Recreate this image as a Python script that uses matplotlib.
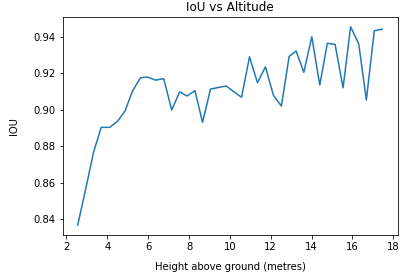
import matplotlib
matplotlib.use("Agg")
import matplotlib.pyplot as plt

# altitude (metres) and mean IoU
heights = [2.55, 2.94, 3.33, 3.70, 4.12, 4.51, 4.87, 5.23, 5.62, 5.97,
           6.36, 6.76, 7.15, 7.54, 7.90, 8.29, 8.66, 9.05, 9.44, 9.82,
           10.20, 10.57, 10.96, 11.35, 11.74, 12.13, 12.52, 12.90, 13.24, 13.62,
           14.01, 14.40, 14.77, 15.15, 15.54, 15.91, 16.31, 16.68, 17.07, 17.46]
iou = [0.8367, 0.8565, 0.8769, 0.8903, 0.8903, 0.8938, 0.8994, 0.9102, 0.9175, 0.9179,
       0.9162, 0.9170, 0.8998, 0.9098, 0.9075, 0.9104, 0.8930, 0.9113, 0.9122, 0.9130,
       0.9098, 0.9068, 0.9290, 0.9148, 0.9235, 0.9079, 0.9020, 0.9292, 0.9322, 0.9205,
       0.9400, 0.9135, 0.9364, 0.9358, 0.9120, 0.9455, 0.9360, 0.9053, 0.9433, 0.9441]

W, H = 408, 279
fig = plt.figure(figsize=(W / 72, H / 72), dpi=72)
# axes box in pixels: left 62.5, right 397.5, top 16.8, bottom 235
ax = fig.add_axes([62.5 / W, 1 - 235 / H, (397.5 - 62.5) / W, (235 - 16.8) / H])

ax.plot(heights, iou, color='#1f77b4', linewidth=1.5)
ax.set_title('IoU vs Altitude')
ax.set_xlabel('Height above ground (metres)', labelpad=10)
ax.set_ylabel('IOU', labelpad=14)
ax.set_xticks(range(2, 19, 2))
ax.set_yticks([0.84, 0.86, 0.88, 0.90, 0.92, 0.94])

fig.savefig('out.png', dpi=72)
